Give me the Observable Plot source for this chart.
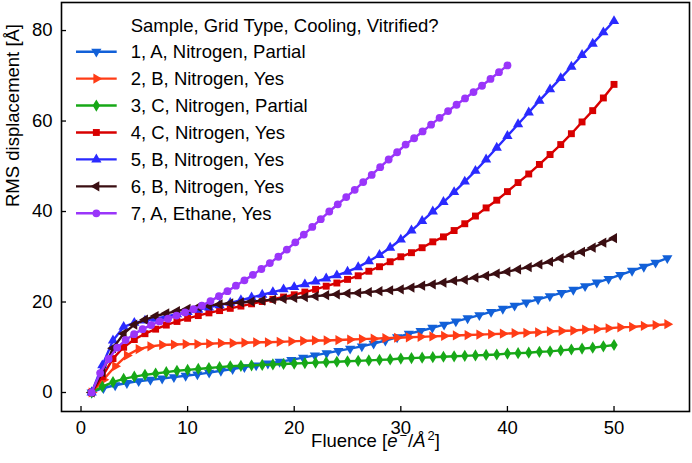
<!DOCTYPE html>
<html><head><meta charset="utf-8">
<script src="https://cdn.jsdelivr.net/npm/d3@7"></script>
<script src="https://cdn.jsdelivr.net/npm/@observablehq/plot@0.6"></script>
<style>
body{margin:0;background:#fff;}
#chart{position:relative;width:692px;height:463px;}
</style></head><body><div id="chart"></div>
<script>
// ---------- data ----------
const legendTitle = "Sample, Grid Type, Cooling, Vitrified?";
const seriesLabels = [
  "1, A, Nitrogen, Partial",
  "2, B, Nitrogen, Yes",
  "3, C, Nitrogen, Partial",
  "4, C, Nitrogen, Yes",
  "5, B, Nitrogen, Yes",
  "6, B, Nitrogen, Yes",
  "7, A, Ethane, Yes"
];
const seriesColors = ["#1260d8", "#ff3c16", "#17a817", "#d80000", "#2a2aff", "#3a0e12", "#9a35fa"];
const seriesMarkers = ["triangle-down", "triangle-right", "thin-diamond", "square", "triangle-up", "triangle-left", "circle"];
// fluence of the first frame and fluence added per frame (e-/Å²)
const firstFluence = [1, 1, 1, 1, 1, 1, 1];
const fluencePerFrame = [1.102, 1.102, 1, 1, 1, 1, 0.796];

const rms1 = [0,1.0,1.6,2.1,2.5,2.8,3.1,3.4,3.7,4.0, 4.4,4.8,5.2,5.6,6.0,6.4,6.8,7.2,7.7,8.2, 8.7,9.2,9.7,10.2,10.8,11.5,12.2,13.0,13.6,14.3, 15.0,15.7,16.4,17.1,17.8,18.5,19.2,19.9,20.6,21.3, 22.0,22.7,23.5,24.3,25.1,26.0,26.9,27.8,28.7,29.7];
const rms2 = [0,2.8,5.8,8.2,9.6,10.2,10.5,10.6,10.7,10.7, 10.8,10.9,10.9,11.0,11.1,11.1,11.2,11.3,11.4,11.5, 11.5,11.6,11.7,11.8,11.9,12.0,12.1,12.2,12.3,12.4, 12.5,12.6,12.7,12.8,12.9,13.0,13.1,13.2,13.3,13.5, 13.6,13.7,13.9,14.0,14.2,14.4,14.5,14.7,14.9,15.1];
const rms3 = [0,1.3,2.3,3.0,3.5,3.9,4.2,4.5,4.8,5.0, 5.2,5.4,5.6,5.8,5.9,6.0,6.1,6.2,6.3,6.4, 6.5,6.6,6.7,6.8,6.9,7.0,7.1,7.2,7.3,7.5, 7.6,7.7,7.8,7.9,8.0,8.1,8.2,8.3,8.4,8.6, 8.7,8.8,9.0,9.1,9.3,9.5,9.7,9.9,10.2,10.5];
const rms4 = [0,3.5,7.5,10.0,11.7,13.0,14.0,14.9,15.7,16.4, 17.0,17.6,18.1,18.6,19.1,19.6,20.1,20.6,21.1,21.6, 22.2,22.8,23.5,24.2,25.0,25.8,26.8,27.8,28.9,30.0, 30.9,32.0,33.3,34.4,35.8,37.3,39.0,40.8,42.5,44.4, 46.4,48.3,50.4,52.6,54.8,57.2,59.8,62.3,65.1,68.1];
const rms5 = [0,6.0,11.5,14.5,15.4,15.9,16.3,16.8,17.3,17.8, 18.3,18.8,19.3,19.8,20.4,21.0,21.6,22.2,22.8,23.3, 23.9,24.5,25.2,25.9,26.7,27.7,29.0,30.4,32.0,33.8, 35.8,37.9,40.0,42.1,44.3,46.6,49.0,51.5,54.1,56.7, 59.3,61.9,64.5,67.0,69.5,72.0,74.6,77.1,79.6,82.1];
const rms6 = [0,4.5,9.8,13.0,15.0,16.1,16.9,17.5,18.0,18.5, 18.9,19.2,19.5,19.7,19.9,20.1,20.3,20.5,20.7,20.9, 21.1,21.3,21.5,21.7,21.9,22.0,22.2,22.4,22.6,22.8, 23.2,23.6,23.9,24.3,24.7,24.9,25.4,25.8,26.3,26.7, 27.2,27.7,28.3,28.9,29.7,30.4,31.1,32.0,33.1,34.1];
const rms7 = [0,4.3,7.4,9.9,11.6,12.9,14.0,14.9,15.7,16.3, 17.0,17.7,18.4,19.2,20.2,21.3,22.4,23.6,24.8,26.0, 27.3,28.6,30.0,31.6,33.2,34.9,36.6,38.3,40.0,41.6, 43.2,44.8,46.5,48.1,49.8,51.5,53.1,54.8,56.2,57.7, 59.2,60.7,62.2,63.6,65.0,66.4,67.8,69.3,70.8,72.3];
const rmsSeries = [rms1, rms2, rms3, rms4, rms5, rms6, rms7];

const xTicks = [0, 10, 20, 30, 40, 50];
const yTicks = [0, 20, 40, 60, 80];
const xLabel = "Fluence";
const yLabel = "RMS displacement [Å]";

// ---------- styling ----------
const W = 692, H = 463;
const FONT = "'Liberation Sans', Arial, Helvetica, sans-serif";
const FS = 18.5;
const LW = 2.4;
const thinDiamond = {
  draw(ctx, size) {
    const h = Math.sqrt(size) * 0.8, w = h * 0.6;
    ctx.moveTo(0, -h); ctx.lineTo(w, 0); ctx.lineTo(0, h); ctx.lineTo(-w, 0); ctx.closePath();
  }
};
const markerDefs = {
  "triangle-down": {symbol: d3.symbolTriangle, rotate: 180, r: 3.8},
  "triangle-up": {symbol: d3.symbolTriangle, rotate: 0, r: 3.8},
  "triangle-right": {symbol: d3.symbolTriangle, rotate: 90, r: 3.8},
  "triangle-left": {symbol: d3.symbolTriangle, rotate: -90, r: 3.8},
  "thin-diamond": {symbol: thinDiamond, rotate: 0, r: 4.3},
  "square": {symbol: d3.symbolSquare, rotate: 0, r: 3.9},
  "circle": {symbol: d3.symbolCircle, rotate: 0, r: 3.9}
};

const series = rmsSeries.map((vals, i) => ({
  label: seriesLabels[i],
  color: seriesColors[i],
  marker: markerDefs[seriesMarkers[i]],
  rows: vals.map((v, k) => ({x: firstFluence[i] + k * fluencePerFrame[i], y: v}))
}));

const marks = [];
series.forEach(s => {
  marks.push(Plot.line(s.rows, {x: "x", y: "y", stroke: s.color, strokeWidth: LW, curve: "linear"}));
  marks.push(Plot.dot(s.rows, {x: "x", y: "y", symbol: s.marker.symbol, rotate: s.marker.rotate, r: s.marker.r, fill: s.color, stroke: "none"}));
});

const plot = Plot.plot({
  width: W, height: H,
  marginLeft: 61, marginRight: 3, marginTop: 2, marginBottom: 52,
  style: {fontFamily: FONT, fontSize: FS + "px", color: "black", background: "white", overflow: "visible"},
  x: {domain: [-1.83, 57.08]},
  y: {domain: [-4.2, 86.2]},
  marks: [
    ...marks,
    Plot.axisX({ticks: xTicks, tickFormat: d => String(d), tickSize: -5, tickPadding: 14, label: null, strokeWidth: 1.3}),
    Plot.axisY({ticks: yTicks, tickFormat: d => String(d), tickSize: -5, tickPadding: 14, label: null, strokeWidth: 1.3}),
    Plot.frame({stroke: "black", strokeWidth: 1.6}),
    Plot.text([xLabel], {frameAnchor: "bottom", dy: 35.5, text: d => d, fontSize: FS, fill: "black"}),
    Plot.text([yLabel], {frameAnchor: "left", dx: -48, rotate: -90, text: d => d, fontSize: FS, fill: "black"})
  ]
});
document.getElementById("chart").appendChild(plot);

// rich x label: Fluence [e⁻/Å²]
const svg = d3.select(plot);
svg.selectAll("text").filter(function() { return this.textContent === xLabel; }).each(function() {
  const t = d3.select(this);
  t.text("");
  t.append("tspan").text("Fluence [");
  t.append("tspan").attr("font-style", "italic").text("e");
  t.append("tspan").attr("dy", -7).attr("dx", 2).attr("font-size", 13).text("−");
  t.append("tspan").attr("dy", 7).attr("dx", 1).text("/");
  t.append("tspan").attr("font-style", "italic").text("Å");
  t.append("tspan").attr("dy", -7).attr("dx", 2).attr("font-size", 13).text("2");
  t.append("tspan").attr("dy", 7).text("]");
});

// legend (upper left, inside the axes)
const lg = svg.append("g").attr("font-family", FONT).attr("font-size", FS).attr("fill", "black").attr("text-anchor", "start");
const lgTextX = 130.7, lgLineX0 = 76, lgLineX1 = 116.7, lgTitleY = 25, lgRow0 = 51.7, lgRowStep = 26.93, capShift = 6.6;
lg.append("text").attr("x", lgTextX).attr("y", lgTitleY + capShift).text(legendTitle);
series.forEach((s, i) => {
  const cy = lgRow0 + i * lgRowStep;
  lg.append("line").attr("x1", lgLineX0).attr("x2", lgLineX1).attr("y1", cy).attr("y2", cy)
    .attr("stroke", s.color).attr("stroke-width", LW);
  lg.append("path").attr("d", d3.symbol(s.marker.symbol, Math.PI * s.marker.r * s.marker.r)())
    .attr("transform", `translate(${(lgLineX0 + lgLineX1) / 2},${cy}) rotate(${s.marker.rotate})`)
    .attr("fill", s.color);
  lg.append("text").attr("x", lgTextX).attr("y", cy + capShift).text(s.label);
});
</script></body></html>
